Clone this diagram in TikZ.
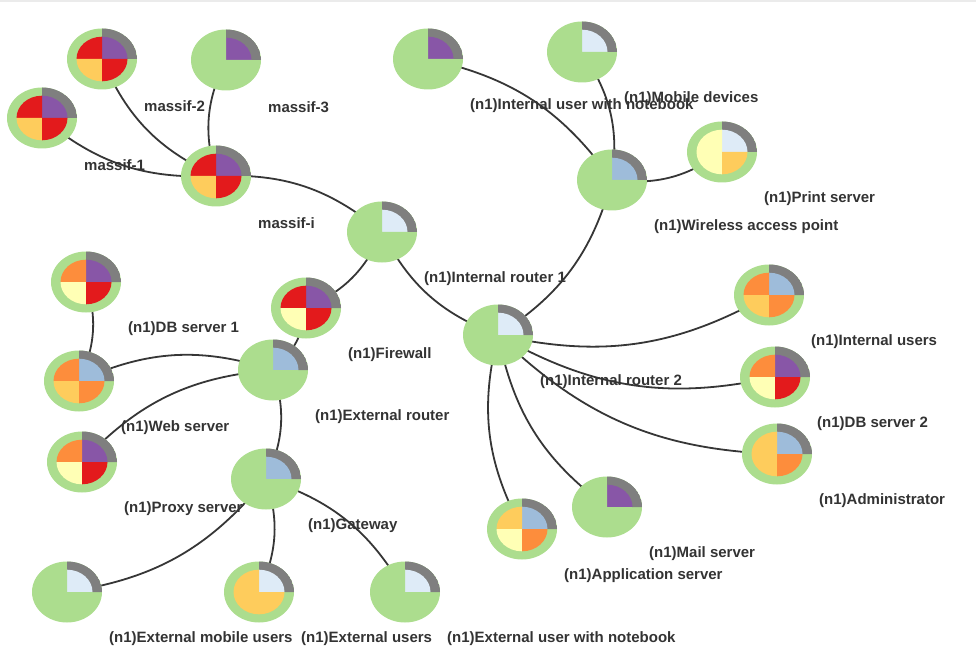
\documentclass[tikz,border=0pt]{standalone}
\usepackage{fontspec}
\setmainfont{Liberation Sans}
\usetikzlibrary{shapes.geometric,backgrounds}
\definecolor{cG}{HTML}{ACDD8E}
\definecolor{cK}{HTML}{7F7F7F}
\definecolor{cR}{HTML}{E31A1C}
\definecolor{cP}{HTML}{8856A7}
\definecolor{cY}{HTML}{FECC5C}
\definecolor{cO}{HTML}{FD8D3C}
\definecolor{cLY}{HTML}{FFFFB5}
\definecolor{cLB}{HTML}{DEEBF7}
\definecolor{cB}{HTML}{9EBCDA}
\definecolor{cE}{HTML}{363636}
\definecolor{cT}{HTML}{333333}
\tikzset{
  nd/.style n args={4}{ellipse, minimum width=70pt, minimum height=61pt, inner sep=0pt, fill=cG,
    path picture={
      \begin{scope}[shift={(path picture bounding box.center)}]
        \fill[cK] (0,0) -- (0:35 and 30.5) arc[start angle=0, end angle=90, x radius=35, y radius=30.5] -- cycle;
        \fill[#2] (0,0) -- (0:25.5 and 22.3) arc[start angle=0, end angle=90, x radius=25.5, y radius=22.3] -- cycle;
        \fill[#1] (0,0) -- (90:25.5 and 22.3) arc[start angle=90, end angle=180, x radius=25.5, y radius=22.3] -- cycle;
        \fill[#3] (0,0) -- (180:25.5 and 22.3) arc[start angle=180, end angle=270, x radius=25.5, y radius=22.3] -- cycle;
        \fill[#4] (0,0) -- (270:25.5 and 22.3) arc[start angle=270, end angle=360, x radius=25.5, y radius=22.3] -- cycle;
      \end{scope}}},
  lbl/.style={anchor=west, inner sep=0pt, text=cT, font=\bfseries\fontsize{15}{18}\selectfont},
  edge/.style={draw=cE, line width=1.8pt, bend right=21},
}
\begin{document}
\begin{tikzpicture}[x=1pt, y=1pt]
\useasboundingbox (0,0) rectangle (976,-668);
\fill[black!8] (0,0) rectangle (976,-2.5);
% nodes
\node[nd={cR}{cP}{cY}{cR}] (m1) at (42,-118) {};
\node[nd={cR}{cP}{cY}{cR}] (m2) at (102,-59) {};
\node[nd={cG}{cP}{cG}{cG}] (m3) at (226,-60) {};
\node[nd={cR}{cP}{cY}{cR}] (mi) at (216,-176) {};
\node[nd={cG}{cLB}{cG}{cG}] (r1) at (382,-232) {};
\node[nd={cG}{cP}{cG}{cG}] (iun) at (428,-59) {};
\node[nd={cG}{cLB}{cG}{cG}] (md) at (582,-52) {};
\node[nd={cG}{cB}{cG}{cG}] (wap) at (612,-180) {};
\node[nd={cLY}{cLB}{cLY}{cY}] (ps) at (722,-152) {};
\node[nd={cO}{cB}{cY}{cO}] (iu) at (769,-295) {};
\node[nd={cO}{cP}{cLY}{cR}] (db2) at (775,-377) {};
\node[nd={cY}{cB}{cY}{cO}] (adm) at (777,-454) {};
\node[nd={cG}{cLB}{cG}{cG}] (r2) at (498,-335) {};
\node[nd={cY}{cB}{cLY}{cO}] (as) at (522,-529) {};
\node[nd={cG}{cP}{cG}{cG}] (ms) at (607,-507) {};
\node[nd={cR}{cP}{cLY}{cR}] (fw) at (306,-308) {};
\node[nd={cG}{cB}{cG}{cG}] (er) at (273,-370) {};
\node[nd={cO}{cP}{cLY}{cR}] (db1) at (86,-282) {};
\node[nd={cO}{cB}{cY}{cO}] (ws) at (79,-381) {};
\node[nd={cO}{cP}{cLY}{cR}] (prx) at (82,-462) {};
\node[nd={cG}{cB}{cG}{cG}] (gw) at (266,-479) {};
\node[nd={cG}{cLB}{cG}{cG}] (emu) at (67,-592) {};
\node[nd={cY}{cLB}{cY}{cY}] (eu) at (259,-592) {};
\node[nd={cG}{cLB}{cG}{cG}] (eun) at (405,-592) {};
% edges (centre to centre, under the nodes)
\begin{scope}[on background layer]
\draw[edge] (m1.center) to (mi.center);
\draw[edge] (m2.center) to (mi.center);
\draw[edge] (m3.center) to (mi.center);
\draw[edge] (r1.center) to (mi.center);
\draw[edge] (fw.center) to (r1.center);
\draw[edge] (er.center) to (fw.center);
\draw[edge] (ws.center) to (db1.center);
\draw[edge] (er.center) to (ws.center);
\draw[edge] (er.center) to (prx.center);
\draw[edge] (gw.center) to (er.center);
\draw[edge] (emu.center) to (gw.center);
\draw[edge] (eu.center) to (gw.center);
\draw[edge] (eun.center) to (gw.center);
\draw[edge] (r1.center) to (r2.center);
\draw[edge] (r2.center) to (wap.center);
\draw[edge] (wap.center) to (iun.center);
\draw[edge] (wap.center) to (md.center);
\draw[edge] (wap.center) to (ps.center);
\draw[edge] (r2.center) to (iu.center);
\draw[edge] (r2.center) to (db2.center);
\draw[edge] (r2.center) to (adm.center);
\draw[edge] (r2.center) to (ms.center);
\draw[edge] (r2.center) to (as.center);
\end{scope}
% labels
\node[lbl] (m1l) at ([shift={(42,-47)}]m1.center) {massif-1};
\node[lbl] (m2l) at ([shift={(42,-47)}]m2.center) {massif-2};
\node[lbl] (m3l) at ([shift={(42,-47)}]m3.center) {massif-3};
\node[lbl] (mil) at ([shift={(42,-47)}]mi.center) {massif-i};
\node[lbl] (r1l) at ([shift={(42,-47)}]r1.center) {(n1)Internal router 1};
\node[lbl] (iunl) at ([shift={(42,-47)}]iun.center) {(n1)Internal user with notebook};
\node[lbl] (mdl) at ([shift={(42,-47)}]md.center) {(n1)Mobile devices};
\node[lbl] (wapl) at ([shift={(42,-47)}]wap.center) {(n1)Wireless access point};
\node[lbl] (psl) at ([shift={(42,-47)}]ps.center) {(n1)Print server};
\node[lbl] (iul) at ([shift={(42,-47)}]iu.center) {(n1)Internal users};
\node[lbl] (db2l) at ([shift={(42,-47)}]db2.center) {(n1)DB server 2};
\node[lbl] (adml) at ([shift={(42,-47)}]adm.center) {(n1)Administrator};
\node[lbl] (r2l) at ([shift={(42,-47)}]r2.center) {(n1)Internal router 2};
\node[lbl] (asl) at ([shift={(42,-47)}]as.center) {(n1)Application server};
\node[lbl] (msl) at ([shift={(42,-47)}]ms.center) {(n1)Mail server};
\node[lbl] (fwl) at ([shift={(42,-47)}]fw.center) {(n1)Firewall};
\node[lbl] (erl) at ([shift={(42,-47)}]er.center) {(n1)External router};
\node[lbl] (db1l) at ([shift={(42,-47)}]db1.center) {(n1)DB server 1};
\node[lbl] (wsl) at ([shift={(42,-47)}]ws.center) {(n1)Web server};
\node[lbl] (prxl) at ([shift={(42,-47)}]prx.center) {(n1)Proxy server};
\node[lbl] (gwl) at ([shift={(42,-47)}]gw.center) {(n1)Gateway};
\node[lbl] (emul) at ([shift={(42,-47)}]emu.center) {(n1)External mobile users};
\node[lbl] (eul) at ([shift={(42,-47)}]eu.center) {(n1)External users};
\node[lbl] (eunl) at ([shift={(42,-47)}]eun.center) {(n1)External user with notebook};
\end{tikzpicture}
\end{document}
